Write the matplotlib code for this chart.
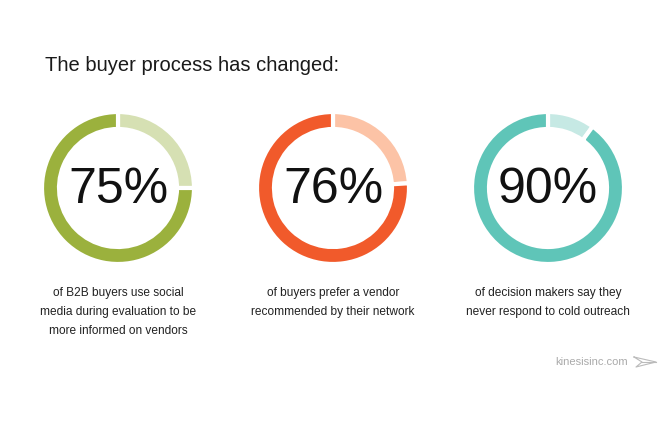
import matplotlib
matplotlib.use("Agg")
import matplotlib.pyplot as plt
from matplotlib.lines import Line2D

W, H = 664, 428

title = "The buyer process has changed:"
percents = [75, 76, 90]
labels = ["75%", "76%", "90%"]
captions = [
    "of B2B buyers use social\nmedia during evaluation to be\nmore informed on vendors",
    "of buyers prefer a vendor\nrecommended by their network",
    "of decision makers say they\nnever respond to cold outreach",
]
dark_colors = ["#9BB13D", "#F15A2B", "#5FC5B8"]
light_colors = ["#D6E0B3", "#FCC3A6", "#C6E9E4"]
centers_x = [118, 333, 548]
center_y = 188
footer = "kinesisinc.com"

fig = plt.figure(figsize=(W / 100, H / 100), dpi=100)
fig.patch.set_facecolor("white")

fig.text(45 / W, 1 - 71 / H, title, fontsize=14.5, family="Liberation Sans",
         color="#1A1A1A", ha="left", va="baseline")

size = 160
for cx, p, lab, cap, dc, lc in zip(centers_x, percents, labels, captions, dark_colors, light_colors):
    ax = fig.add_axes([(cx - size / 2) / W, 1 - (center_y + size / 2) / H, size / W, size / H])
    ax.pie([100 - p, p], colors=[lc, dc], startangle=90, counterclock=False,
           radius=76 / 80, wedgeprops=dict(width=17 / 80, edgecolor="white", linewidth=3))
    ax.set_xlim(-1, 1)
    ax.set_ylim(-1, 1)
    ax.set_aspect("equal")
    ax.axis("off")
    fig.text(cx / W, 1 - 190 / H, lab, fontsize=36, family="Liberation Sans",
             color="#111111", ha="center", va="center")
    fig.text(cx / W, 1 - 287 / H, cap, fontsize=8.6, family="Liberation Sans", color="#222222",
             ha="center", va="top", linespacing=1.75)

fig.text(628 / W, 1 - 362 / H, footer, fontsize=8, family="Liberation Sans", color="#AAAAAA",
         ha="right", va="center")

# small paper-plane decoration
px = [634, 656, 636, 642, 634]
py = [357, 362, 367, 362, 357]
fig.add_artist(Line2D([x / W for x in px], [1 - y / H for y in py], color="#BBBBBB", lw=0.8))
fig.add_artist(Line2D([642 / W, 656 / W], [1 - 362 / H, 1 - 362 / H], color="#BBBBBB", lw=0.8))

fig.savefig("out.png", dpi=100, facecolor="white")
